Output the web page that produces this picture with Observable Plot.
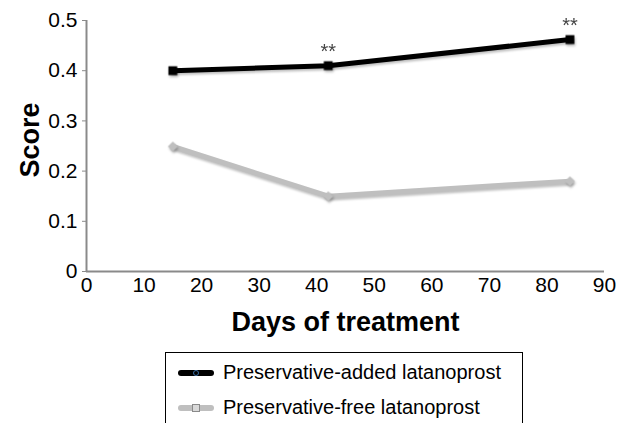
<!DOCTYPE html>
<html>
<head>
<meta charset="utf-8">
<script src="https://cdn.jsdelivr.net/npm/d3@7"></script>
<script src="https://cdn.jsdelivr.net/npm/@observablehq/plot@0.6"></script>
<style>
  html, body { margin: 0; padding: 0; background: #fff; }
  #wrap { position: relative; width: 621px; height: 423px; overflow: hidden; background: #fff; font-family: "Liberation Sans", Arial, sans-serif; }
  #chart { position: absolute; left: 0; top: 0; }
  #legend { position: absolute; left: 165px; top: 352px; width: 358px; height: 100px; border: 1px solid #000; box-sizing: border-box; background: #fff; }
  .row { position: absolute; left: 12px; display: flex; align-items: center; font-size: 20px; color: #000; white-space: nowrap; }
  .row svg { margin-right: 9px; }
  svg g[aria-label="line"], svg g[aria-label="dot"] { filter: drop-shadow(1px 2px 1.2px rgba(0,0,0,0.25)); }
</style>
</head>
<body>
<div id="wrap">
  <div id="chart"></div>
  <div id="legend"></div>
</div>
<script>
const days = [15, 42, 84];
const preservativeAdded = [0.40, 0.41, 0.462];
const preservativeFree = [0.249, 0.15, 0.18];
const significance = ["", "**", "**"];
const seriesNames = ["Preservative-added latanoprost", "Preservative-free latanoprost"];
const seriesColors = ["#000000", "#bfbfbf"];
const xTicks = [0, 10, 20, 30, 40, 50, 60, 70, 80, 90];
const yTicks = [0, 0.1, 0.2, 0.3, 0.4, 0.5];

const added = days.map((d, i) => ({day: d, score: preservativeAdded[i], sig: significance[i]}));
const free = days.map((d, i) => ({day: d, score: preservativeFree[i]}));
const font = '"Liberation Sans", Arial, sans-serif';
const axisColor = "#8a8a8a";

const chart = Plot.plot({
  width: 621,
  height: 345,
  marginLeft: 86,
  marginRight: 17,
  marginTop: 20,
  marginBottom: 74,
  style: {fontFamily: font, fontSize: "21px", color: "#000", background: "transparent"},
  x: {domain: [0, 90]},
  y: {domain: [0, 0.5]},
  marks: [
    Plot.axisY({ticks: yTicks, tickSize: 4, tickPadding: 5, stroke: axisColor, fill: "#000",
      tickFormat: d => d === 0 ? "0" : d3.format(".1f")(d), label: null, fontSize: 21}),
    Plot.axisX({ticks: xTicks, tickSize: 0, tickPadding: 6, fill: "#000", label: null, fontSize: 21}),
    Plot.ruleX([0], {stroke: axisColor, strokeWidth: 2}),
    Plot.ruleY([0], {stroke: axisColor, strokeWidth: 2}),
    Plot.line(free, {x: "day", y: "score", stroke: seriesColors[1], strokeWidth: 5}),
    Plot.dot(free, {x: "day", y: "score", symbol: "diamond2", r: 4.5, fill: seriesColors[1], stroke: "none"}),
    Plot.line(added, {x: "day", y: "score", stroke: seriesColors[0], strokeWidth: 5}),
    Plot.dot(added, {x: "day", y: "score", symbol: "square", r: 5, fill: seriesColors[0], stroke: "none"}),
    Plot.text(added.filter(d => d.sig), {x: "day", y: "score", text: "sig", dy: -14, fill: "#444", fontSize: 20}),
    Plot.text(["Score"], {frameAnchor: "left", textAnchor: "middle", lineAnchor: "middle", dx: -56, dy: -6, rotate: -90, fontWeight: "bold", fontSize: 27}),
    Plot.text(["Days of treatment"], {frameAnchor: "bottom", lineAnchor: "middle", dy: 51, fontWeight: "bold", fontSize: 27})
  ]
});
document.getElementById("chart").appendChild(chart);

const legend = document.getElementById("legend");
const markerSvg = [
  c => `<svg width="36" height="12"><line x1="3" y1="6" x2="33" y2="6" stroke="${c}" stroke-width="6" stroke-linecap="round"/><circle cx="18" cy="6" r="2.5" fill="${c}" stroke="#3a6ea5" stroke-width="1"/></svg>`,
  c => `<svg width="36" height="12"><line x1="3" y1="6" x2="33" y2="6" stroke="${c}" stroke-width="6" stroke-linecap="round"/><rect x="14.5" y="2.5" width="7" height="7" fill="#d9d9d9" stroke="#8a8a8a" stroke-width="1"/></svg>`
];
seriesNames.forEach((name, i) => {
  const row = document.createElement("div");
  row.className = "row";
  row.style.top = (i === 0 ? 8 : 43) + "px";
  row.innerHTML = markerSvg[i](seriesColors[i]) + `<span>${name}</span>`;
  legend.appendChild(row);
});
</script>
</body>
</html>
